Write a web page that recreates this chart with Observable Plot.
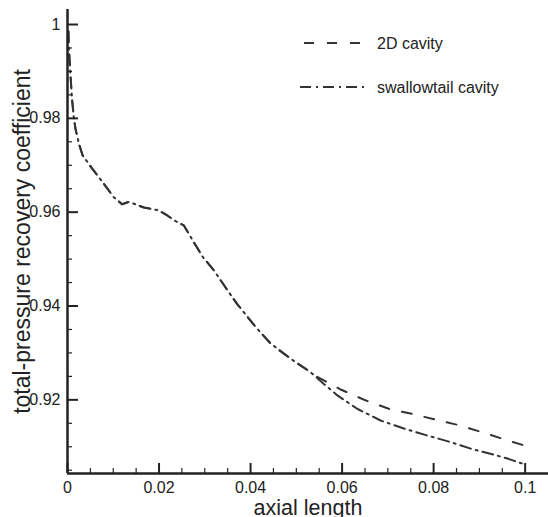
<!DOCTYPE html>
<html>
<head>
<meta charset="utf-8">
<script src="https://cdn.jsdelivr.net/npm/d3@7"></script>
<script src="https://cdn.jsdelivr.net/npm/@observablehq/plot@0.6"></script>
<style>
  body { margin: 0; background: #fff; }
  #wrap { position: relative; width: 548px; height: 517px; font-family: "Liberation Sans", Arial, sans-serif; }
  #legend { position: absolute; left: 0; top: 0; pointer-events: none; }
</style>
</head>
<body>
<div id="wrap"></div>
<script>
// ---- data ----
const x2D = [0.0002, 0.0003, 0.0006, 0.001, 0.0014, 0.0018, 0.0025, 0.0033, 0.0054, 0.0079, 0.0101, 0.0119, 0.0134, 0.0167, 0.0199, 0.0218, 0.0236, 0.0254, 0.0265, 0.0276, 0.0296, 0.032, 0.0345, 0.037, 0.0414, 0.0444, 0.0487, 0.0531, 0.0546, 0.0597, 0.0651, 0.0702, 0.0753, 0.0804, 0.0855, 0.0906, 0.0957, 0.0997];
const y2D = [0.9985, 0.995, 0.99, 0.984, 0.980, 0.9775, 0.9746, 0.9721, 0.9693, 0.9661, 0.9632, 0.9617, 0.9622, 0.961, 0.9604, 0.9593, 0.9581, 0.9572, 0.9554, 0.9536, 0.9504, 0.9476, 0.944, 0.9405, 0.9352, 0.932, 0.9288, 0.9259, 0.9249, 0.9222, 0.9199, 0.9181, 0.917, 0.9158, 0.9146, 0.9131, 0.9115, 0.9103];

const xSwallow = [0.0002, 0.0003, 0.0006, 0.001, 0.0014, 0.0018, 0.0025, 0.0033, 0.0054, 0.0079, 0.0101, 0.0119, 0.0134, 0.0167, 0.0199, 0.0218, 0.0236, 0.0254, 0.0265, 0.0276, 0.0296, 0.032, 0.0345, 0.037, 0.0414, 0.0444, 0.0487, 0.0531, 0.056, 0.0589, 0.0633, 0.0684, 0.0735, 0.0786, 0.0837, 0.0881, 0.0924, 0.0961, 0.0994];
const ySwallow = [0.9985, 0.995, 0.99, 0.984, 0.980, 0.9775, 0.9746, 0.9721, 0.9693, 0.9661, 0.9632, 0.9617, 0.9622, 0.961, 0.9604, 0.9593, 0.9581, 0.9572, 0.9554, 0.9536, 0.9504, 0.9476, 0.944, 0.9405, 0.9352, 0.932, 0.9288, 0.9259, 0.9234, 0.921, 0.9181, 0.9156, 0.9139, 0.9124, 0.911, 0.9096, 0.9085, 0.9075, 0.9064];

const seriesNames = ["2D cavity", "swallowtail cavity"];
const xTicks = [0, 0.02, 0.04, 0.06, 0.08, 0.1];
const xTickLabels = ["0", "0.02", "0.04", "0.06", "0.08", "0.1"];
const yTicks = [0.92, 0.94, 0.96, 0.98, 1];
const yTickLabels = ["0.92", "0.94", "0.96", "0.98", "1"];
const xMinor = [0.005, 0.01, 0.015, 0.025, 0.03, 0.035, 0.045, 0.05, 0.055, 0.065, 0.07, 0.075, 0.085, 0.09, 0.095];
const yMinor = [0.905, 0.91, 0.915, 0.925, 0.93, 0.935, 0.945, 0.95, 0.955, 0.965, 0.97, 0.975, 0.985, 0.99, 0.995];
const xTitle = "axial length";
const yTitle = "total-pressure recovery coefficient";

// ---- build table ----
const data2D = x2D.map((x, i) => ({x, y: y2D[i], s: seriesNames[0]}));
const dataSw = xSwallow.map((x, i) => ({x, y: ySwallow[i], s: seriesNames[1]}));

const xDomain = [0, 0.1051];
const yDomain = [0.9043, 1.0032];
const ink = "#222";
const lineColor = "#333";
const dashes = ["10,13", "11,5,2,5"];

const chart = Plot.plot({
  width: 548,
  height: 517,
  marginLeft: 67,
  marginRight: 0,
  marginTop: 9,
  marginBottom: 44,
  style: {fontFamily: "'Liberation Sans', Arial, sans-serif", color: ink, background: "#fff", overflow: "visible"},
  x: {domain: xDomain},
  y: {domain: yDomain},
  marks: [
    Plot.line(data2D, {x: "x", y: "y", stroke: lineColor, strokeWidth: 2, strokeDasharray: dashes[0], curve: "linear"}),
    Plot.line(dataSw, {x: "x", y: "y", stroke: lineColor, strokeWidth: 2, strokeDasharray: dashes[1], curve: "linear"}),
    Plot.axisX(xMinor, {tickSize: 5, dy: -5, fill: "none", strokeWidth: 1.2, label: null}),
    Plot.axisY(yMinor, {tickSize: 5, dx: 5, fill: "none", strokeWidth: 1.2, label: null}),
    Plot.axisX(xTicks, {tickSize: 10, dy: -10, tickPadding: 8, strokeWidth: 2, fontSize: 16, label: null,
      tickFormat: d => xTickLabels[xTicks.indexOf(d)]}),
    Plot.axisY(yTicks, {tickSize: 11, dx: 11, tickPadding: 7, strokeWidth: 2, fontSize: 16, label: null,
      tickFormat: d => yTickLabels[yTicks.indexOf(d)]}),
    Plot.ruleY([yDomain[0]], {stroke: ink, strokeWidth: 2.5}),
    Plot.ruleX([xDomain[0]], {stroke: ink, strokeWidth: 2.5}),
    Plot.text([xTitle], {frameAnchor: "bottom", textAnchor: "middle", lineAnchor: "middle", dy: 35, fontSize: 21.5, fill: ink}),
    Plot.text([yTitle], {frameAnchor: "left", textAnchor: "middle", lineAnchor: "middle", dx: -44.5, rotate: -90, fontSize: 23, fill: ink})
  ]
});

const wrap = document.getElementById("wrap");
wrap.appendChild(chart);

// ---- legend overlay ----
const legend = d3.select(wrap).append("svg")
  .attr("id", "legend").attr("width", 548).attr("height", 517);
const legendRows = [
  {name: seriesNames[0], dash: dashes[0], x1: 304, x2: 362, y: 43},
  {name: seriesNames[1], dash: dashes[1], x1: 300, x2: 368, y: 87}
];
legendRows.forEach(r => {
  legend.append("line")
    .attr("x1", r.x1).attr("x2", r.x2).attr("y1", r.y).attr("y2", r.y)
    .attr("stroke", lineColor).attr("stroke-width", 2).attr("stroke-dasharray", r.dash);
  legend.append("text")
    .attr("x", 377).attr("y", r.y).attr("dy", "0.35em")
    .attr("font-size", 16).attr("fill", ink)
    .attr("font-family", "'Liberation Sans', Arial, sans-serif")
    .text(r.name);
});
</script>
</body>
</html>
